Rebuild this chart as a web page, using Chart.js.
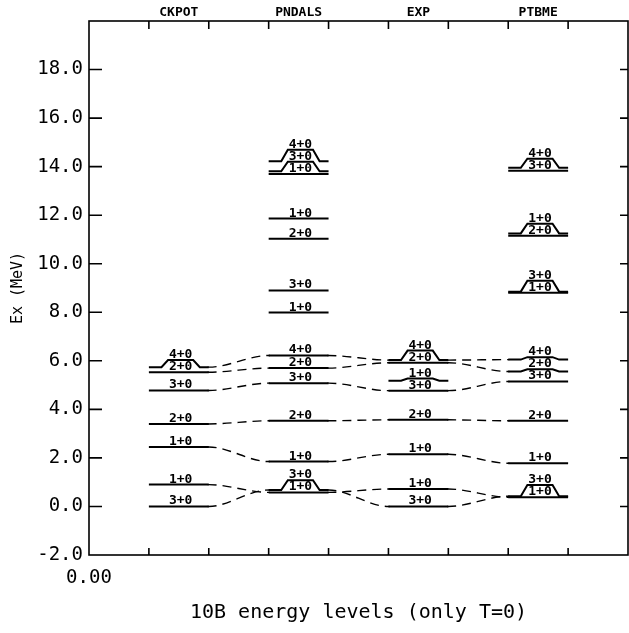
<!DOCTYPE html>
<html>
<head>
<meta charset="utf-8">
<script src="https://cdn.jsdelivr.net/npm/chart.js@4.4.1/dist/chart.umd.min.js"></script>
<style>
  html, body { margin: 0; padding: 0; background: #fff; }
</style>
</head>
<body>
<canvas id="levels" width="629" height="633"></canvas>
<script>
// 10B levels (MeV), sorted low -> high in each column
const models = ['CKPOT', 'PNDALS', 'EXP', 'PTBME'];
const colStart = [1, 3, 5, 7];

const ckpotE = [0.0, 0.9, 2.45, 3.40, 4.78, 5.53, 5.74];
const ckpotJ = ['3+0', '1+0', '1+0', '2+0', '3+0', '2+0', '4+0'];

const pndalsE = [0.58, 0.68, 1.85, 3.53, 5.08, 5.70, 6.22, 7.99, 8.90, 11.03, 11.86, 13.70, 13.81, 14.22];
const pndalsJ = ['1+0', '3+0', '1+0', '2+0', '3+0', '2+0', '4+0', '1+0', '3+0', '2+0', '1+0', '1+0', '3+0', '4+0'];

const expE = [0.0, 0.72, 2.15, 3.57, 4.77, 5.18, 5.92, 6.03];
const expJ = ['3+0', '1+0', '1+0', '2+0', '3+0', '1+0', '2+0', '4+0'];

const ptbmeE = [0.38, 0.42, 1.78, 3.53, 5.15, 5.56, 6.05, 8.80, 8.85, 11.15, 11.25, 13.83, 13.95];
const ptbmeJ = ['1+0', '3+0', '1+0', '2+0', '3+0', '2+0', '4+0', '1+0', '3+0', '2+0', '1+0', '3+0', '4+0'];

// dashed correspondences: index of the level in each column
const links = [
  [0, 1, 0, 1],
  [1, 0, 1, 0],
  [2, 2, 2, 2],
  [3, 3, 3, 3],
  [4, 4, 4, 4],
  [5, 5, 6, 5],
  [6, 6, 7, 6]
];

const yTicks = [-2, 0, 2, 4, 6, 8, 10, 12, 14, 16, 18];
const xTicks = [0, 1, 2, 3, 4, 5, 6, 7, 8];

const columns = [
  { E: ckpotE, J: ckpotJ },
  { E: pndalsE, J: pndalsJ },
  { E: expE, J: expJ },
  { E: ptbmeE, J: ptbmeJ }
];

// room a label needs above a level (MeV); close levels get a raised step
const LABEL_H = 0.5;
const labelSpots = [];
const datasets = [];

columns.forEach((col, c) => {
  const x0 = colStart[c], x1 = x0 + 1, cx = x0 + 0.53;
  let prevBase = -Infinity;
  col.E.forEach((e, i) => {
    const base = Math.max(e, prevBase + LABEL_H);
    prevBase = base;
    let pts;
    if (base - e > 0.04) {
      pts = [[x0, e], [cx - 0.32, e], [cx - 0.21, base], [cx + 0.21, base], [cx + 0.32, e], [x1, e]];
    } else {
      pts = [[x0, e], [x1, e]];
    }
    datasets.push({
      data: pts.map(p => ({ x: p[0], y: p[1] })),
      borderColor: '#000',
      borderWidth: 2,
      pointRadius: 0,
      tension: 0
    });
    labelSpots.push({ x: cx, y: base, text: col.J[i] });
  });
});

links.forEach(track => {
  for (let c = 0; c < track.length - 1; c++) {
    const xa = colStart[c] + 1, xb = colStart[c + 1];
    const ea = columns[c].E[track[c]], eb = columns[c + 1].E[track[c + 1]];
    datasets.push({
      data: [
        { x: xa - 0.02, y: ea }, { x: xa, y: ea },
        { x: xb, y: eb }, { x: xb + 0.02, y: eb }
      ],
      borderColor: '#000',
      borderWidth: 1.4,
      borderDash: [9, 6],
      pointRadius: 0,
      cubicInterpolationMode: 'monotone'
    });
  }
});

const levelLabels = {
  id: 'levelLabels',
  afterDatasetsDraw(chart) {
    const { ctx, scales } = chart;
    ctx.save();
    ctx.fillStyle = '#000';
    ctx.font = 'bold 13px "DejaVu Sans Mono"';
    ctx.textAlign = 'center';
    ctx.textBaseline = 'alphabetic';
    labelSpots.forEach(s => {
      ctx.fillText(s.text, scales.x.getPixelForValue(s.x), scales.y.getPixelForValue(s.y) - 2);
    });
    ctx.restore();
  }
};

// frame and inward tick marks
const frameTicks = {
  id: 'frameTicks',
  afterDraw(chart) {
    const { ctx, chartArea: a, scales } = chart;
    ctx.save();
    ctx.strokeStyle = '#000';
    ctx.lineWidth = 1.6;
    ctx.strokeRect(a.left, a.top, a.right - a.left, a.bottom - a.top);
    ctx.beginPath();
    xTicks.forEach(v => {
      if (v === 0) return;
      const px = scales.x.getPixelForValue(v);
      ctx.moveTo(px, a.bottom); ctx.lineTo(px, a.bottom - 7);
      ctx.moveTo(px, a.top); ctx.lineTo(px, a.top + 8);
    });
    yTicks.forEach(v => {
      if (v === yTicks[0]) return;
      const py = scales.y.getPixelForValue(v);
      ctx.moveTo(a.left, py); ctx.lineTo(a.left + 13, py);
      ctx.moveTo(a.right, py); ctx.lineTo(a.right - 8, py);
    });
    ctx.stroke();
    ctx.restore();
  }
};

new Chart(document.getElementById('levels'), {
  type: 'line',
  data: { datasets },
  options: {
    responsive: false,
    animation: false,
    layout: { padding: { right: 1 } },
    plugins: { legend: { display: false }, tooltip: { enabled: false } },
    scales: {
      x: {
        type: 'linear',
        position: 'bottom',
        min: 0,
        max: 9,
        afterBuildTicks: s => { s.ticks = xTicks.map(v => ({ value: v })); },
        afterFit: s => { s.height = 78; },
        grid: { drawOnChartArea: false, drawTicks: false },
        border: { display: false },
        ticks: {
          autoSkip: false,
          maxRotation: 0,
          padding: 12,
          color: '#000',
          font: { family: '"DejaVu Sans Mono"', size: 19 },
          callback: v => (v === 0 ? '0.00' : '')
        },
        title: {
          display: true,
          text: '10B energy levels (only T=0)',
          color: '#000',
          font: { family: '"DejaVu Sans Mono"', size: 20 },
          padding: { top: 0, bottom: 8 }
        }
      },
      x2: {
        type: 'linear',
        position: 'top',
        min: 0,
        max: 9,
        afterBuildTicks: s => { s.ticks = colStart.map(v => ({ value: v + 0.5 })); },
        afterFit: s => { s.height = 21; },
        grid: { drawOnChartArea: false, drawTicks: false },
        border: { display: false },
        ticks: {
          autoSkip: false,
          maxRotation: 0,
          padding: 1,
          color: '#000',
          font: { family: '"DejaVu Sans Mono"', size: 13, weight: 'bold' },
          callback: (v, i) => models[i]
        }
      },
      y: {
        type: 'linear',
        position: 'left',
        min: -2,
        max: 20,
        afterBuildTicks: s => { s.ticks = yTicks.map(v => ({ value: v })); },
        afterFit: s => { s.width = 89; },
        grid: { drawOnChartArea: false, drawTicks: false },
        border: { display: false },
        ticks: {
          padding: 6,
          color: '#000',
          font: { family: '"DejaVu Sans Mono"', size: 19 },
          callback: v => v.toFixed(1)
        },
        title: {
          display: true,
          text: 'Ex (MeV)',
          color: '#000',
          font: { family: '"DejaVu Sans Mono"', size: 15 },
          padding: { top: 9, bottom: 0 }
        }
      }
    }
  },
  plugins: [levelLabels, frameTicks]
});
</script>
</body>
</html>
